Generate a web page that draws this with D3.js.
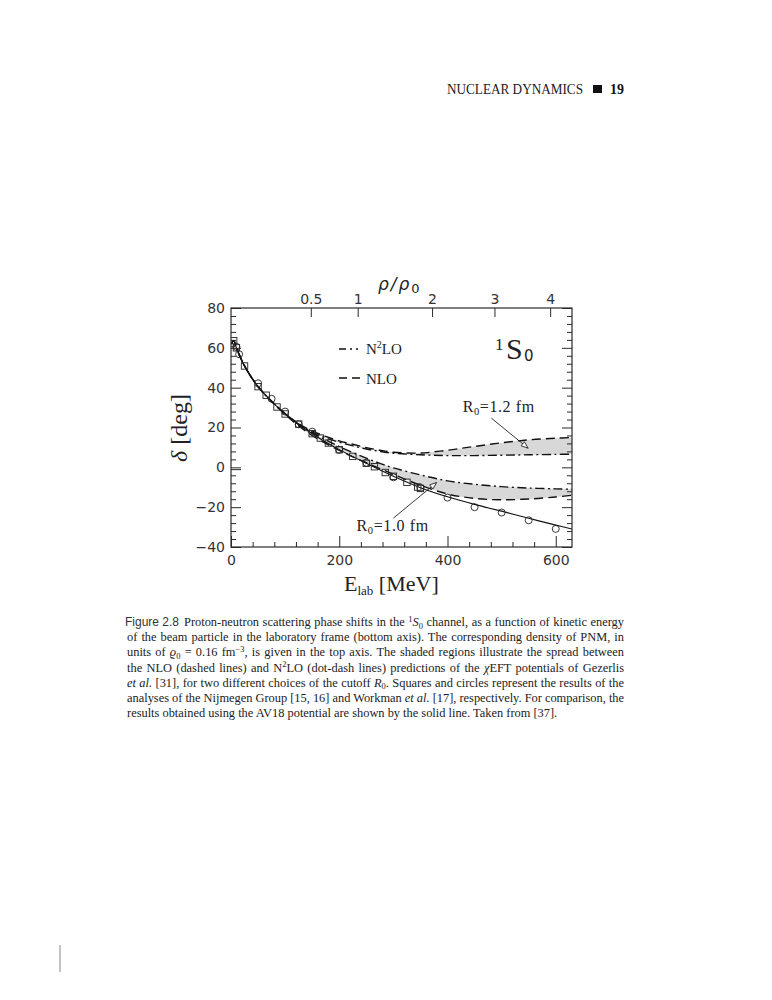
<!DOCTYPE html>
<html><head><meta charset="utf-8">
<script src="https://cdn.jsdelivr.net/npm/d3@7"></script>
<style>body{margin:0;background:#fff}</style>
</head><body>
<svg id="c" width="772" height="1000"></svg>
<script>
// ---------------- data ----------------
const energyGrid = [1,5,10,25,50,75,100,125,150,175,200,225,250,275,300,350,400,450,500,550,600,630];
const nloR12  = [62.1,63.6,60.0,50.9,40.5,33.2,27.0,21.9,18.3,15.5,13.3,11.6,9.9,8.6,7.6,7.2,8.6,10.5,12.3,13.8,14.6,15.0];
const n2loR12 = [62.1,63.6,60.0,50.9,40.5,33.2,26.9,21.6,17.6,14.8,12.6,10.8,9.2,8.0,7.1,6.3,5.9,5.9,6.1,6.3,6.5,6.6];
const n2loR10 = [62.1,63.6,60.0,50.9,40.5,33.2,26.9,21.6,17.4,13.8,10.4,7.4,4.6,2.0,-0.3,-3.8,-6.8,-8.5,-9.7,-10.4,-10.8,-11.0];
const nloR10  = [62.1,63.6,60.0,50.9,40.5,33.0,26.5,20.8,16.0,12.0,8.5,5.3,2.3,-0.6,-3.5,-9.0,-13.4,-15.6,-16.3,-15.9,-14.9,-14.0];

const av18E = [1,5,10,25,50,75,100,150,200,250,300,350,400,450,500,550,600,630];
const av18D = [62.1,63.6,60.0,50.9,40.5,33.2,26.8,16.9,8.9,2.0,-4.5,-10.2,-14.8,-18.6,-22.0,-25.6,-29.0,-31.0];

const nijmegenE = [1,5,10,25,50,65,85,100,125,150,165,180,200,225,250,265,285,300,325,345,350];
const nijmegenD = [62.1,63.6,60.0,50.9,40.5,36.2,30.3,26.8,21.7,16.9,14.7,12.2,8.9,5.5,2.0,0.3,-2.6,-4.5,-7.5,-9.9,-10.6];

const workmanE = [10,15,50,75,100,125,150,200,250,300,350,400,450,500,550,600];
const workmanD = [60.5,56.8,42.2,34.4,28.0,21.6,17.9,8.7,2.3,-5.0,-10.3,-15.2,-20.0,-22.7,-26.6,-30.9];

const xMajorTicks = [0,200,400,600];
const yMajorTicks = [-40,-20,0,20,40,60,80];
const rhoTicks = [0.5,1,2,3,4];
const rhoTickLabels = ["0.5","1","2","3","4"];
const energyAtRho0 = 234; // E_lab [MeV] corresponding to rho = rho0

// ---------------- chart ----------------
const svg = d3.select("#c");
svg.append("rect").attr("width",772).attr("height",1000).attr("fill","#fff");

const x = d3.scaleLinear().domain([0,630]).range([231,572]);
const y = d3.scaleLinear().domain([-40,80]).range([547,308]);
const xTop = d3.scalePow().exponent(2/3).domain([0,1]).range([x(0), x(energyAtRho0)]);

const ink = "#2a2a2a";
const xMinor = d3.range(0,631,40).filter(v => !xMajorTicks.includes(v));
const yMinor = d3.range(-40,81,4).filter(v => !yMajorTicks.includes(v));

function styleAxis(g){
  g.select(".domain").remove();
  g.selectAll("line").attr("stroke",ink).attr("stroke-width",1);
  g.selectAll("text").attr("font-family","DejaVu Sans").attr("font-size",14).attr("fill","#333");
}

svg.append("clipPath").attr("id","plot").append("rect")
  .attr("x",x(0)).attr("y",y(80)).attr("width",x(630)-x(0)).attr("height",y(-40)-y(80));

const curve = d3.curveCatmullRom.alpha(0.5);
const band = d3.area().x(d=>x(d.e)).y0(d=>y(d.a)).y1(d=>y(d.b)).curve(curve);
const line = d3.line().x(d=>x(d[0])).y(d=>y(d[1])).curve(curve);

const plot = svg.append("g").attr("clip-path","url(#plot)");
const upperBand = energyGrid.map((e,i)=>({e, a:nloR12[i], b:n2loR12[i]}));
const lowerBand = energyGrid.map((e,i)=>({e, a:n2loR10[i], b:nloR10[i]}));
plot.append("path").attr("d",band(upperBand)).attr("fill","#d8d8d8");
plot.append("path").attr("d",band(lowerBand)).attr("fill","#d8d8d8");

const dashNLO = "9,5";
const dashN2LO = "9,3.5,2,3.5";
[[nloR12,dashNLO],[n2loR12,dashN2LO],[n2loR10,dashN2LO],[nloR10,dashNLO]].forEach(([arr,da])=>{
  plot.append("path").attr("d",line(energyGrid.map((e,i)=>[e,arr[i]])))
    .attr("fill","none").attr("stroke","#111").attr("stroke-width",1.4).attr("stroke-dasharray",da);
});
plot.append("path").attr("d",line(av18E.map((e,i)=>[e,av18D[i]])))
  .attr("fill","none").attr("stroke","#111").attr("stroke-width",1.1);

plot.selectAll(".sq").data(nijmegenE.map((e,i)=>[e,nijmegenD[i]])).enter().append("rect")
  .attr("x",d=>x(d[0])-3.2).attr("y",d=>y(d[1])-3.2).attr("width",6.4).attr("height",6.4)
  .attr("fill","none").attr("stroke","#222").attr("stroke-width",0.9);
plot.selectAll(".ci").data(workmanE.map((e,i)=>[e,workmanD[i]])).enter().append("circle")
  .attr("cx",d=>x(d[0])).attr("cy",d=>y(d[1])).attr("r",3.5)
  .attr("fill","none").attr("stroke","#222").attr("stroke-width",0.9);

svg.append("rect").attr("x",x(0)).attr("y",y(80)).attr("width",x(630)-x(0)).attr("height",y(-40)-y(80))
  .attr("fill","none").attr("stroke",ink).attr("stroke-width",1.2);

svg.append("g").attr("transform",`translate(${x(0)},0)`)
  .call(d3.axisLeft(y).tickValues(yMajorTicks).tickSizeInner(-10).tickSizeOuter(0).tickPadding(6)).call(styleAxis);
svg.append("g").attr("transform",`translate(${x(0)},0)`)
  .call(d3.axisLeft(y).tickValues(yMinor).tickSizeInner(-5).tickSizeOuter(0).tickFormat("")).call(styleAxis);
svg.append("line").attr("x1",x(0)).attr("x2",x(0)+10).attr("y1",y(0)+2.3).attr("y2",y(0)+2.3)
  .attr("stroke",ink).attr("stroke-width",1);
svg.append("g").attr("transform",`translate(${x(630)},0)`)
  .call(d3.axisRight(y).tickValues(yMajorTicks).tickSizeInner(-10).tickSizeOuter(0).tickFormat("")).call(styleAxis);
svg.append("g").attr("transform",`translate(${x(630)},0)`)
  .call(d3.axisRight(y).tickValues(yMinor).tickSizeInner(-5).tickSizeOuter(0).tickFormat("")).call(styleAxis);
svg.append("g").attr("transform",`translate(0,${y(-40)})`)
  .call(d3.axisBottom(x).tickValues(xMajorTicks).tickSizeInner(-11).tickSizeOuter(0).tickPadding(8)).call(styleAxis);
svg.append("g").attr("transform",`translate(0,${y(-40)})`)
  .call(d3.axisBottom(x).tickValues(xMinor).tickSizeInner(-5).tickSizeOuter(0).tickFormat("")).call(styleAxis);
svg.append("g").attr("transform",`translate(0,${y(80)})`)
  .call(d3.axisTop(xTop).tickValues(rhoTicks).tickFormat((d,i)=>rhoTickLabels[i]).tickSizeInner(-9).tickSizeOuter(0).tickPadding(4)).call(styleAxis);

const serif = "Liberation Serif";
const yl = svg.append("text").attr("transform","translate(187,428) rotate(-90)")
  .attr("text-anchor","middle").attr("font-family",serif).attr("font-size",24).attr("fill","#222");
yl.append("tspan").attr("font-style","italic").text("δ");
yl.append("tspan").text(" [deg]");

const xl = svg.append("text").attr("x",344).attr("y",591).attr("font-family",serif).attr("font-size",22).attr("fill","#222");
xl.append("tspan").text("E");
xl.append("tspan").attr("font-size",13).attr("dy",4).text("lab");
xl.append("tspan").attr("dy",-4).text(" [MeV]");

const rl = svg.append("text").attr("x",378).attr("y",290).attr("font-family","DejaVu Sans")
  .attr("font-style","italic").attr("font-size",17).attr("fill","#222").attr("letter-spacing",2);
rl.append("tspan").text("ρ/ρ");
rl.append("tspan").attr("font-size",13).attr("font-style","normal").attr("dy",3).text("0");

svg.append("text").attr("x",495).attr("y",350).attr("font-family",serif).attr("font-size",17).attr("fill","#222").text("1");
svg.append("text").attr("x",506).attr("y",359).attr("font-family",serif).attr("font-size",30).attr("fill","#222").text("S");
svg.append("text").attr("x",524).attr("y",361).attr("font-family","DejaVu Sans").attr("font-size",15).attr("fill","#222").text("0");

const lg = svg.append("g");
lg.append("line").attr("x1",339).attr("x2",362).attr("y1",349).attr("y2",349)
  .attr("stroke","#111").attr("stroke-width",1.3).attr("stroke-dasharray","7,4,2,4,2,4");
const t1 = lg.append("text").attr("x",366).attr("y",354).attr("font-family",serif).attr("font-size",15).attr("fill","#222");
t1.append("tspan").text("N");
t1.append("tspan").attr("font-size",10).attr("dy",-6).text("2");
t1.append("tspan").attr("dy",6).text("LO");
lg.append("line").attr("x1",339).attr("x2",362).attr("y1",378).attr("y2",378)
  .attr("stroke","#111").attr("stroke-width",1.3).attr("stroke-dasharray","8,5");
lg.append("text").attr("x",366).attr("y",384).attr("font-family",serif).attr("font-size",15).attr("fill","#222").text("NLO");

function arrow(fromE, fromD, toE, toD){
  const x1=x(fromE), y1=y(fromD), x2=x(toE), y2=y(toD);
  svg.append("line").attr("x1",x1).attr("y1",y1).attr("x2",x2).attr("y2",y2).attr("stroke","#222").attr("stroke-width",0.9);
  const ang = Math.atan2(y2-y1, x2-x1), L=7, W=2.6;
  const bx = x2 - L*Math.cos(ang), by = y2 - L*Math.sin(ang);
  const px = -Math.sin(ang)*W, py = Math.cos(ang)*W;
  svg.append("path").attr("d",`M${x2},${y2}L${bx+px},${by+py}L${bx-px},${by-py}Z`)
    .attr("fill","#fff").attr("stroke","#222").attr("stroke-width",0.9);
}
function rlabel(e, d, val){
  const t = svg.append("text").attr("x",x(e)).attr("y",y(d)).attr("font-family",serif).attr("font-size",16).attr("fill","#222").attr("letter-spacing",0.6);
  t.append("tspan").text("R");
  t.append("tspan").attr("font-size",10.5).attr("dy",3).text("0");
  t.append("tspan").attr("dy",-3).text("=" + val + "\u00a0fm");
}
rlabel(428, 28, "1.2");
arrow(481, 24.7, 549, 9.6);
rlabel(232, -32.2, "1.0");
arrow(300, -25.5, 380, -7.6);

// ---------------- page header ----------------
svg.append("text").attr("x",447).attr("y",94).attr("font-family",serif).attr("font-size",14)
  .attr("fill","#222").attr("textLength",136).attr("lengthAdjust","spacingAndGlyphs").text("NUCLEAR DYNAMICS");
svg.append("rect").attr("x",593).attr("y",85).attr("width",9).attr("height",8).attr("fill","#111");
svg.append("text").attr("x",610).attr("y",94).attr("font-family",serif).attr("font-size",14)
  .attr("font-weight","bold").attr("fill","#111").text("19");

// ---------------- caption ----------------
const capLines = [
  [["Proton-neutron scattering phase shifts in the ","n"],["1","sup"],["S","it"],["0","sub"],[" channel, as a function of kinetic energy","n"]],
  [["of the beam particle in the laboratory frame (bottom axis). The corresponding density of PNM, in","n"]],
  [["units of ","n"],["ϱ","it"],["0","sub"],[" = 0.16 fm","n"],["−3","sup"],[", is given in the top axis. The shaded regions illustrate the spread between","n"]],
  [["the NLO (dashed lines) and N","n"],["2","sup"],["LO (dot-dash lines) predictions of the ","n"],["χ","it"],["EFT potentials of Gezerlis","n"]],
  [["et al.","it"],[" [31], for two different choices of the cutoff ","n"],["R","it"],["0","sub"],[". Squares and circles represent the results of the","n"]],
  [["analyses of the Nijmegen Group [15, 16] and Workman ","n"],["et al.","it"],[" [17], respectively. For comparison, the","n"]],
  [["results obtained using the AV18 potential are shown by the solid line. Taken from [37].","n"]]
];
const capLeft = 127, capRight = 624, capTop = 626, capStep = 15.2, capSize = 12.4;
svg.append("text").attr("x",capLeft-2).attr("y",capTop).attr("font-family","Liberation Sans")
  .attr("font-size",12).attr("fill","#333").text("Figure 2.8");
capLines.forEach((segs, li)=>{
  const x0 = li===0 ? 184 : capLeft;
  const t = svg.append("text").attr("x",x0).attr("y",capTop+li*capStep)
    .attr("font-family",serif).attr("font-size",capSize).attr("fill","#222");
  let shift = 0;
  segs.forEach(([s,k])=>{
    const sp = t.append("tspan").text(s);
    let target = 0;
    if(k==="sup"){ target=-4.5; sp.attr("font-size",8.5); }
    else if(k==="sub"){ target=2.5; sp.attr("font-size",8.5); }
    else if(k==="it"){ sp.attr("font-style","italic"); }
    if(target!==shift){ sp.attr("dy",target-shift); shift=target; }
  });
  if(li < capLines.length-1){
    const w = t.node().getComputedTextLength();
    const text = segs.map(s=>s[0]).join("");
    const spaces = (text.match(/ /g)||[]).length;
    t.attr("word-spacing",(capRight - x0 - w)/spaces);
  }
});

svg.append("line").attr("x1",60).attr("x2",60).attr("y1",945).attr("y2",972).attr("stroke","#888").attr("stroke-width",1);
</script>
</body></html>
